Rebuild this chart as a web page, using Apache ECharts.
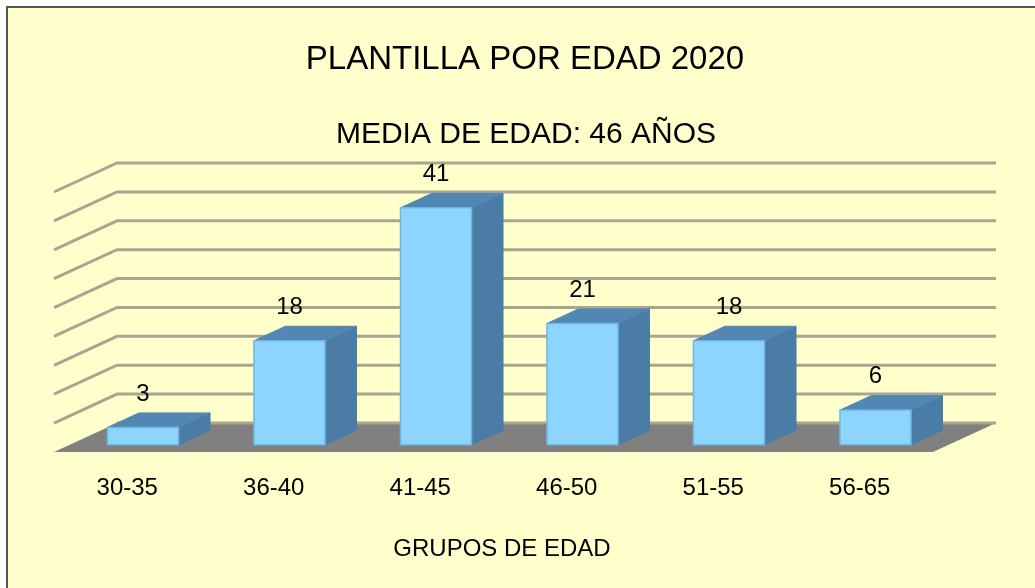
<!DOCTYPE html>
<html>
<head>
<meta charset="utf-8">
<script src="https://cdn.jsdelivr.net/npm/echarts@6/dist/echarts.min.js"></script>
<style>
  html, body { margin: 0; padding: 0; background: #ffffff; }
  #chart { width: 1035px; height: 588px; }
</style>
</head>
<body>
<div id="chart"></div>
<script>
// datos
const categories = ["30-35", "36-40", "41-45", "46-50", "51-55", "56-65"];
const counts = [3, 18, 41, 21, 18, 6];
const yTicks = [0, 5, 10, 15, 20, 25, 30, 35, 40, 45];
const yMax = 45;
const yInterval = 5;

// profundidad oblicua del "3D" (pixeles)
const DX = 63;
const DY = 29;
const FONT = "'Liberation Sans', Arial, sans-serif";

const chart = echarts.init(document.getElementById("chart"));

// paredes: lineas de division en el lado izquierdo y el fondo
function renderWall(params, api) {
  const cs = params.coordSys;
  const v = api.value(1);
  const p = api.coord([0, v]);
  const y = p[1];
  const x0 = cs.x;
  const x1 = cs.x + cs.width;
  const pts = v === 0
    ? [[x0 + DX, y - DY], [x1 + DX, y - DY]]
    : [[x0, y], [x0 + DX, y - DY], [x1 + DX, y - DY]];
  return {
    type: "polyline",
    shape: { points: pts },
    style: { stroke: "#a8a690", lineWidth: 3, fill: null }
  };
}

// suelo gris
function renderFloor(params, api) {
  const cs = params.coordSys;
  const y = api.coord([0, 0])[1];
  const x0 = cs.x;
  const x1 = cs.x + cs.width;
  return {
    type: "polygon",
    shape: { points: [[x0, y], [x0 + DX, y - DY], [x1 + DX, y - DY], [x1, y]] },
    style: { fill: "#808080" }
  };
}

// barras con cara frontal, superior y lateral
function renderBar(params, api) {
  const idx = api.value(0);
  const val = api.value(1);
  const p0 = api.coord([idx, 0]);
  const p1 = api.coord([idx, val]);
  const band = api.size([1, 0])[0];
  const hw = band * 0.485 / 2;
  const zf = 0.25, depth = 0.5;
  const xL = p0[0] - hw + zf * DX;
  const xR = p0[0] + hw + zf * DX;
  const yB = p0[1] - zf * DY;
  const yT = p1[1] - zf * DY;
  const ddx = depth * DX, ddy = depth * DY;
  return {
    type: "group",
    children: [
      {
        type: "polygon",
        shape: { points: [[xR, yT], [xR + ddx, yT - ddy], [xR + ddx, yB - ddy], [xR, yB]] },
        style: { fill: "#4a7ca5", stroke: "#4a7ca5", lineWidth: 1 }
      },
      {
        type: "polygon",
        shape: { points: [[xL, yT], [xL + ddx, yT - ddy], [xR + ddx, yT - ddy], [xR, yT]] },
        style: { fill: "#5187b2", stroke: "#5187b2", lineWidth: 1 }
      },
      {
        type: "rect",
        shape: { x: xL, y: yT, width: xR - xL, height: yB - yT },
        style: { fill: "#8dd4fe", stroke: "#70b6e4", lineWidth: 1.5 }
      },
      {
        type: "text",
        style: {
          text: String(val),
          x: (xL + xR) / 2,
          y: yT - ddy - 19,
          align: "center",
          verticalAlign: "middle",
          font: "24px " + FONT,
          fill: "#000000"
        }
      }
    ]
  };
}

const option = {
  backgroundColor: "#ffffff",
  animation: false,
  graphic: [
    {
      type: "rect",
      z: -10,
      silent: true,
      shape: { x: 7, y: 7, width: 1100, height: 700 },
      style: { fill: "#ffffcc", stroke: "#555555", lineWidth: 2 }
    }
  ],
  title: [
    {
      text: "PLANTILLA POR EDAD 2020",
      left: 520,
      top: 38,
      textAlign: "center",
      textStyle: { fontFamily: FONT, fontSize: 33, fontWeight: "normal", color: "#000" }
    },
    {
      text: "MEDIA DE EDAD: 46 AÑOS",
      left: 521,
      top: 115,
      textAlign: "center",
      textStyle: { fontFamily: FONT, fontSize: 30, fontWeight: "normal", color: "#000" }
    }
  ],
  grid: { left: 54, right: 102, top: 192, bottom: 136 },
  xAxis: {
    type: "category",
    data: categories,
    axisLine: { show: false },
    axisTick: { show: false },
    axisLabel: { margin: 24, fontFamily: FONT, fontSize: 24, color: "#000" },
    name: "GRUPOS DE EDAD",
    nameLocation: "middle",
    nameGap: 85,
    nameTextStyle: { fontFamily: FONT, fontSize: 24, color: "#000", padding: [0, 0, 0, 17] }
  },
  yAxis: {
    type: "value",
    min: 0,
    max: yMax,
    interval: yInterval,
    show: false,
    splitLine: { show: false }
  },
  series: [
    {
      type: "custom",
      silent: true,
      clip: false,
      z: 1,
      renderItem: renderFloor,
      data: [[0, 0]]
    },
    {
      type: "custom",
      silent: true,
      clip: false,
      z: 2,
      renderItem: renderWall,
      data: yTicks.map(v => [0, v])
    },
    {
      type: "custom",
      silent: true,
      clip: false,
      z: 3,
      renderItem: renderBar,
      data: counts.map((c, i) => [i, c])
    }
  ]
};

chart.setOption(option);
</script>
</body>
</html>
